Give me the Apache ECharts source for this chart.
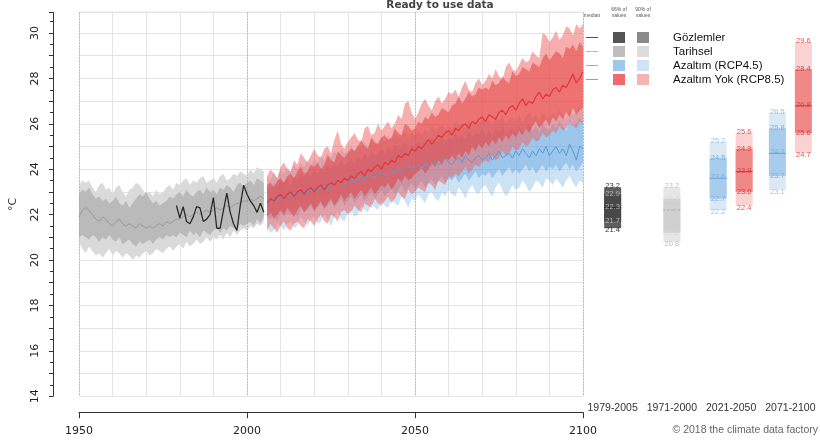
<!DOCTYPE html>
<html><head><meta charset="utf-8">
<script src="https://cdn.jsdelivr.net/npm/echarts@6/dist/echarts.min.js"></script>
<style>html,body{margin:0;padding:0;background:#fff}#c{width:820px;height:445px}</style>
</head><body><div id="c"></div>
<script>
// ---------- DATA ----------
const histStart = 1950, futStart = 2006, obsStart = 1979;
const histMedian = [21.9,22.2,22.3,22.2,22.0,21.8,21.7,21.9,21.8,21.6,
  21.5,21.7,21.8,21.6,21.5,21.6,21.5,21.4,21.6,21.5,
  21.4,21.5,21.4,21.5,21.6,21.5,21.7,21.6,21.7,21.8,
  21.8,21.9,22.0,21.9,22.0,22.1,22.0,22.1,22.2,22.1,
  22.2,22.3,22.2,22.3,22.4,22.3,22.4,22.5,22.5,22.6,
  22.6,22.7,22.6,22.7,22.8,22.7];
const hist66Lo = [21.0,21.1,21.0,20.9,21.1,21.0,20.8,21.0,20.9,21.1,
  20.9,20.8,21.0,20.7,20.8,20.9,20.7,20.6,20.8,20.7,
  20.8,20.9,20.7,20.9,21.0,20.9,21.1,21.0,21.1,21.0,
  21.2,21.1,21.0,21.3,21.1,21.2,21.0,21.3,21.2,21.1,
  21.3,21.4,21.2,21.4,21.3,21.5,21.4,21.3,21.6,21.5,
  21.6,21.7,21.5,21.8,21.6,21.9];
const hist66Hi = [22.9,23.1,23.0,23.2,22.9,22.7,22.8,22.6,22.7,22.5,
  22.6,22.8,22.5,22.4,22.6,22.3,22.5,22.7,22.9,22.8,
  23.0,22.7,22.5,22.6,22.4,22.5,22.6,22.8,22.7,22.9,
  23.0,22.8,23.1,22.9,22.8,23.0,23.1,22.9,23.2,23.0,
  23.1,22.9,23.2,23.1,23.3,23.2,23.0,23.3,23.4,23.2,
  23.4,23.5,23.3,23.6,23.5,23.4];
const hist90Lo = [20.8,20.5,20.3,20.6,20.4,20.2,20.3,20.1,20.3,20.5,
  20.2,20.4,20.3,20.1,20.3,20.2,20.0,20.2,20.1,20.3,
  20.4,20.2,20.3,20.5,20.4,20.3,20.5,20.6,20.4,20.6,
  20.7,20.5,20.8,20.6,20.7,20.9,20.7,20.8,21.0,20.8,
  21.0,20.9,21.1,20.9,21.2,21.0,21.3,21.1,21.3,21.4,
  21.3,21.5,21.4,21.6,21.5,21.7];
const hist90Hi = [23.3,23.5,23.4,23.5,23.2,23.0,23.3,23.4,23.1,23.2,
  22.9,23.2,23.3,23.0,22.8,23.1,23.2,23.4,23.3,23.1,
  22.9,23.0,22.8,23.1,22.9,23.0,23.2,23.3,23.1,23.4,
  23.3,23.5,23.6,23.3,23.5,23.4,23.6,23.7,23.4,23.5,
  23.6,23.4,23.7,23.8,23.5,23.6,23.8,23.7,23.9,23.8,
  23.7,24.0,23.8,24.1,24.0,23.9];
const observed = [22.4,21.85,22.35,21.7,21.6,21.9,22.35,22.3,21.7,21.8,
  22.0,22.75,21.4,21.4,22.2,22.95,22.1,21.6,21.3,22.4,
  23.3,22.9,22.6,22.4,22.1,22.5,22.1];

const rcp85Median = [22.5,22.7,22.6,22.8,22.9,
  22.7,22.9,23.0,22.8,23.0,23.1,22.9,23.1,23.2,23.0,
  23.2,23.3,23.1,23.3,23.4,23.3,23.5,23.4,23.6,23.5,
  23.7,23.6,23.8,23.9,23.7,24.0,23.9,24.1,24.2,24.0,
  24.3,24.2,24.4,24.3,24.6,24.5,24.7,24.6,24.9,24.8,
  25.0,24.9,25.1,25.3,25.1,25.3,25.5,25.4,25.6,25.7,
  25.5,25.8,25.7,25.9,26.0,25.8,26.1,26.0,26.2,26.3,
  26.1,26.4,26.3,26.2,26.5,26.6,26.4,26.7,26.8,26.6,
  26.9,27.1,26.8,27.0,26.9,27.2,27.4,27.1,27.3,27.2,
  27.5,27.6,27.4,27.7,27.6,27.9,28.2,27.8,28.0,28.3];
const rcp85_66Hi = [23.3,23.4,23.2,23.5,23.6,
  23.4,23.7,23.8,23.6,23.9,24.1,23.8,23.9,24.2,24.1,
  24.3,24.0,24.2,24.6,24.4,24.3,24.8,24.6,24.5,24.7,
  24.9,24.8,25.0,25.3,25.0,24.9,25.4,25.2,25.1,25.4,
  25.5,25.3,25.4,25.8,25.6,25.5,26.0,25.9,25.7,25.8,
  26.1,26.0,26.3,26.2,26.5,26.3,26.4,26.7,26.6,26.5,
  26.8,26.9,27.2,26.9,27.1,27.4,27.2,27.3,27.6,27.5,
  27.6,27.5,27.9,27.7,27.8,28.1,27.9,27.8,28.3,28.1,
  28.2,28.5,28.4,28.3,28.7,28.6,28.5,28.9,29.1,28.8,
  29.0,29.2,29.1,28.9,29.4,29.3,29.5,29.2,29.6,29.4];
const rcp85_66Lo = [21.9,22.1,21.8,22.0,22.2,
  22.0,22.3,22.1,21.9,22.2,22.4,22.1,22.3,22.5,22.2,
  22.4,22.6,22.3,22.5,22.7,22.4,22.6,22.9,22.6,22.8,
  23.0,22.7,22.9,23.1,22.8,23.0,23.2,22.9,23.1,23.3,
  23.2,23.4,23.1,23.3,23.6,23.4,23.7,23.5,23.6,23.8,
  23.9,24.1,23.8,24.0,24.3,24.1,24.4,24.2,24.5,24.4,
  24.6,24.4,24.7,24.5,24.8,24.6,25.0,24.8,25.1,24.9,
  25.2,25.0,25.3,25.1,25.4,25.2,25.5,25.3,25.6,25.4,
  25.7,25.5,25.8,25.6,25.9,26.1,25.8,26.0,26.2,25.9,
  26.3,26.1,26.4,26.2,26.5,26.3,26.7,26.4,26.6,26.7];
const rcp85_90Hi = [23.7,24.0,23.8,23.6,24.1,
  24.3,24.0,23.9,24.4,24.2,24.7,24.5,24.3,24.6,24.9,
  24.6,24.5,24.9,25.0,24.7,25.3,25.7,25.1,24.9,25.2,
  25.4,25.6,25.3,25.2,25.8,25.9,25.5,25.6,26.0,25.7,
  25.9,26.1,25.8,26.0,26.4,26.2,26.9,27.0,26.5,26.2,
  26.5,26.9,27.1,26.8,26.6,27.0,27.2,26.9,27.1,27.4,
  27.3,27.5,27.2,27.6,27.9,27.5,27.4,27.8,28.0,27.7,
  27.9,28.2,28.0,28.4,28.1,27.9,28.5,28.7,28.4,28.3,
  28.6,28.9,28.7,28.8,29.2,29.0,28.9,30.0,29.9,29.6,
  29.8,30.1,29.7,29.9,30.3,30.2,29.9,30.4,30.2,30.4];
const rcp85_90Lo = [21.3,21.6,21.4,21.2,21.5,
  21.7,21.4,21.3,21.6,21.7,21.5,21.4,21.8,21.7,21.5,
  21.8,22.0,21.7,21.6,22.0,21.9,21.7,22.1,22.2,22.0,
  22.1,22.4,22.2,22.1,22.5,22.4,22.3,22.7,22.5,22.4,
  22.6,22.8,22.5,22.7,23.0,22.8,22.7,23.1,22.9,23.0,
  23.2,23.1,23.0,23.4,23.3,23.1,23.5,23.4,23.3,23.7,
  23.6,23.8,23.7,23.9,24.1,23.8,24.0,24.2,24.1,24.3,
  24.4,24.3,24.6,24.4,24.5,24.8,24.6,24.7,25.0,24.8,
  24.9,25.2,25.0,25.1,25.4,25.2,25.3,25.6,25.4,25.5,
  25.7,25.6,25.9,25.7,25.8,26.1,25.9,25.8,26.1,26.0];

const rcp45Median = [22.6,22.5,22.7,22.6,22.8,
  22.7,22.9,22.8,23.0,22.9,23.1,22.9,23.0,23.2,23.1,
  23.0,23.2,23.3,23.1,23.4,23.3,23.5,23.4,23.3,23.5,
  23.6,23.4,23.6,23.7,23.5,23.8,23.7,23.6,23.9,23.8,
  23.7,23.9,24.0,23.8,24.1,23.9,24.0,24.2,24.0,24.1,
  24.2,24.0,24.3,24.1,24.2,24.4,24.2,24.3,24.5,24.3,
  24.2,24.4,24.5,24.3,24.6,24.4,24.3,24.5,24.6,24.4,
  24.5,24.7,24.4,24.6,24.8,24.5,24.6,24.7,24.5,24.8,
  24.6,24.9,24.7,24.5,24.8,24.6,24.9,24.7,25.0,24.6,
  24.8,25.0,24.7,24.9,24.6,25.1,24.8,24.4,25.0,24.9];
const rcp45_66Hi = [23.3,23.1,23.4,23.2,23.5,
  23.4,23.6,23.3,23.7,23.5,23.8,23.6,23.9,23.7,24.0,
  23.8,24.1,23.9,24.2,24.0,24.3,24.1,24.4,24.2,24.3,
  24.5,24.3,24.6,24.4,24.7,24.5,24.8,24.6,24.7,24.9,
  24.7,25.0,24.8,25.1,24.9,25.0,25.2,24.9,25.1,25.0,
  25.2,25.0,25.3,25.1,25.4,25.2,25.3,25.5,25.2,25.4,
  25.3,25.6,25.4,25.5,25.3,25.7,25.4,25.6,25.5,25.8,
  25.5,25.7,25.4,25.8,25.6,25.9,25.5,25.7,25.8,25.6,
  25.9,25.6,25.8,26.0,25.7,25.9,25.6,26.0,25.8,25.7,
  26.0,25.8,26.1,25.9,25.7,26.2,25.9,26.0,26.3,26.0];
const rcp45_66Lo = [21.9,21.8,22.0,21.7,22.1,
  21.9,22.1,22.0,22.2,21.9,22.3,22.1,22.2,22.4,22.1,
  22.3,22.5,22.2,22.4,22.6,22.3,22.5,22.7,22.4,22.6,
  22.8,22.5,22.7,22.9,22.6,22.8,23.0,22.7,22.9,23.1,
  22.8,23.0,23.2,22.9,23.1,23.3,23.0,23.2,23.4,23.1,
  23.3,23.5,23.2,23.4,23.6,23.3,23.5,23.7,23.4,23.6,
  23.5,23.7,23.4,23.6,23.8,23.5,23.7,23.9,23.6,23.8,
  23.7,23.9,23.6,23.8,24.0,23.7,23.9,24.1,23.8,24.0,
  23.8,24.0,24.2,23.9,24.1,23.8,24.0,24.2,23.9,24.1,
  24.0,24.2,23.9,24.1,24.3,24.0,24.2,23.9,24.1,24.3];
const rcp45_90Hi = [23.7,23.5,23.9,23.6,24.0,
  23.8,24.1,23.9,24.2,24.0,24.3,24.1,24.4,24.2,24.5,
  24.3,24.6,24.4,24.7,24.5,24.8,24.6,24.9,24.7,24.8,
  25.0,24.8,25.1,24.9,25.2,25.0,25.3,25.1,25.2,25.4,
  25.2,25.5,25.3,25.6,25.4,25.5,25.7,25.4,25.6,25.5,
  25.7,25.5,25.8,25.6,25.9,25.7,25.8,26.0,25.7,25.9,
  25.8,26.1,25.9,26.0,25.8,26.2,25.9,26.1,26.0,26.3,
  26.0,26.2,25.9,26.3,26.1,26.4,26.0,26.2,26.3,26.1,
  26.4,26.1,26.3,26.5,26.2,26.4,26.1,26.5,26.3,26.2,
  26.5,26.3,26.6,26.4,26.2,26.7,26.4,26.5,26.8,26.6];
const rcp45_90Lo = [21.4,21.2,21.3,21.6,21.5,
  21.3,21.6,21.7,21.4,21.5,21.9,21.7,21.5,21.8,21.9,
  21.6,21.7,22.0,21.8,21.5,21.9,22.1,21.8,21.7,22.1,
  22.2,21.9,22.0,22.4,22.2,22.1,22.5,22.3,22.2,22.6,
  22.4,22.3,22.7,22.5,22.4,22.8,22.6,22.3,22.7,22.6,
  22.9,22.7,22.5,22.9,23.0,22.7,22.6,23.0,22.8,23.1,
  22.9,22.8,23.2,23.0,22.7,23.1,23.3,23.0,22.9,23.2,
  23.3,23.0,22.8,23.2,23.4,23.1,22.8,23.0,23.3,23.1,
  23.2,23.5,23.3,23.0,23.2,23.5,23.4,23.2,23.6,23.5,
  23.3,23.6,23.4,23.2,23.5,23.7,23.4,23.2,23.5,23.4];

// period boxes: [5%, 17%, median, 83%, 95%]
const periods = ['1979-2005','1971-2000','2021-2050','2071-2100'];
const boxObs = [21.4, 21.7, 22.3, 22.9, 23.2];
const boxHist = [20.8, 21.2, 22.2, 22.7, 23.2];
const boxRcp45Mid = [22.2, 22.7, 23.6, 24.5, 25.2];
const boxRcp85Mid = [22.4, 23.0, 23.9, 24.9, 25.6];
const boxRcp45End = [23.1, 23.7, 24.7, 25.8, 26.5];
const boxRcp85End = [24.7, 25.6, 26.8, 28.4, 29.6];

const legendNames = ['Gözlemler', 'Tarihsel', 'Azaltım (RCP4.5)', 'Azaltım Yok (RCP8.5)'];

// ---------- BUILD ----------
const yrs = (start, n) => Array.from({length: n}, (_, i) => start + i);
const histYears = yrs(histStart, histMedian.length);
const futYears = yrs(futStart, rcp85Median.length);
const obsYears = yrs(obsStart, observed.length);

// filled band between lo and hi, drawn as one polygon through the axis scales
function band(years, lo, hi, color, z) {
  const data = years.map((y, i) => [y, lo[i], hi[i]]);
  return {
    type: 'custom', silent: true, z: z, animation: false, xAxisIndex: 0, yAxisIndex: 0,
    encode: { x: 0, y: [1, 2] },
    data: data,
    renderItem: function (params, api) {
      if (params.dataIndex !== 0) return null;
      const top = data.map(d => api.coord([d[0], d[2]]));
      const bot = data.map(d => api.coord([d[0], d[1]])).reverse();
      return { type: 'polygon', shape: { points: top.concat(bot) }, style: { fill: color } };
    }
  };
}
function line(years, vals, color, width, z) {
  return { type: 'line', xAxisIndex: 0, yAxisIndex: 0, data: years.map((y, i) => [y, vals[i]]), symbol: 'none',
    lineStyle: { color: color, width: width }, silent: true, z: z, animation: false };
}

const boxFont = 'Liberation Sans, Arial, sans-serif';
function boxSeries(cat, vals, off, c90, c66, cMed, cLblOut, cLblIn) {
  return {
    type: 'custom', xAxisIndex: 2, yAxisIndex: 1, silent: true, z: 5, animation: false,
    data: [[cat].concat(vals)],
    renderItem: function (params, api) {
      const c = api.value(0);
      const v = [1,2,3,4,5].map(k => api.value(k));
      const p = v.map(x => api.coord([c, x]));
      const cx = p[0][0] + off, hw = 8.5;
      const txt = (val, y, fill) => ({ type: 'text', z2: 10, style: { text: val.toFixed(1), x: cx, y: y,
        align: 'center', verticalAlign: 'middle', fill: fill, fontSize: 7.5, fontFamily: boxFont } });
      return { type: 'group', children: [
        { type: 'rect', shape: { x: cx - hw, y: p[4][1], width: hw * 2, height: p[0][1] - p[4][1] }, style: { fill: c90 } },
        { type: 'rect', shape: { x: cx - hw, y: p[3][1], width: hw * 2, height: p[1][1] - p[3][1] }, style: { fill: c66 } },
        { type: 'line', shape: { x1: cx - hw, y1: p[2][1], x2: cx + hw, y2: p[2][1] }, style: { stroke: cMed, lineWidth: 1 } },
        txt(v[4], p[4][1] - 1, cLblOut), txt(v[3], p[3][1], cLblIn), txt(v[2], p[2][1] - 1, cLblIn),
        txt(v[1], p[1][1], cLblIn), txt(v[0], p[0][1] + 2, cLblOut)
      ]};
    }
  };
}

const series = [
  band(histYears, hist90Lo, hist90Hi, '#dadada', 1),
  band(histYears, hist66Lo, hist66Hi, '#bababa', 2),
  band(futYears, rcp45_90Lo, rcp45_90Hi, 'rgba(120,180,230,0.38)', 3),
  band(futYears, rcp45_66Lo, rcp45_66Hi, 'rgba(90,160,225,0.42)', 4),
  band(futYears, rcp85_90Lo, rcp85_90Hi, 'rgba(240,100,100,0.52)', 5),
  band(futYears, rcp85_66Lo, rcp85_66Hi, 'rgba(228,60,60,0.52)', 6),
  line(histYears, histMedian, '#9a9a9a', 1, 10),
  line(futYears, rcp45Median, '#5a9bd5', 1, 10),
  line(futYears, rcp85Median, '#e2363a', 1.2, 11),
  line(obsYears, observed, '#2a2a2a', 1.3, 12),
  boxSeries(0, boxObs, 0, '#5e5e5e', '#484848', '#1e1e1e', '#333', '#b8b8b8'),
  boxSeries(1, boxHist, 0, '#e6e6e6', '#d0d0d0', '#a8a8a8', '#bdbdbd', '#d8d8d8'),
  boxSeries(2, boxRcp45Mid, -13, '#dbe9f6', '#a8ccec', '#5b9bd5', '#9cc2e6', '#80b2de'),
  boxSeries(2, boxRcp85Mid, 13, '#fbd2d2', '#f08888', '#e03a3a', '#e45555', '#d94040'),
  boxSeries(3, boxRcp45End, -13, '#dbe9f6', '#a8ccec', '#5b9bd5', '#9cc2e6', '#80b2de'),
  boxSeries(3, boxRcp85End, 13, '#fbd2d2', '#f08888', '#e03a3a', '#e45555', '#d94040')
];

// legend graphic
const legMed = ['#555', '#bbb', '#7fb3e0', '#ef7b7b'];
const leg66 = ['#555555', '#bdbdbd', '#9dc7ec', '#ef6b6b'];
const leg90 = ['#8a8a8a', '#dcdcdc', '#cfe3f5', '#f7b2b2'];
const graphics = [
  { type: 'text', style: { text: 'Ready to use data', x: 440, y: 5, align: 'center', verticalAlign: 'middle',
      fill: '#444', fontSize: 10.5, fontWeight: 'bold', fontFamily: 'DejaVu Sans, sans-serif' } },
  { type: 'line', shape: { x1: 77, y1: 12, x2: 583, y2: 12 }, style: { stroke: '#ececec', lineWidth: 1 } },
  { type: 'text', style: { text: 'median', x: 592, y: 16, align: 'center', verticalAlign: 'middle', fill: '#555', fontSize: 5, fontFamily: boxFont } },
  { type: 'text', style: { text: '66% of\nvalues', x: 619, y: 13, align: 'center', verticalAlign: 'middle', fill: '#555', fontSize: 5, lineHeight: 6, fontFamily: boxFont } },
  { type: 'text', style: { text: '90% of\nvalues', x: 643, y: 13, align: 'center', verticalAlign: 'middle', fill: '#555', fontSize: 5, lineHeight: 6, fontFamily: boxFont } },
  { type: 'text', style: { text: '© 2018 the climate data factory', x: 818, y: 430, align: 'right', verticalAlign: 'middle', fill: '#666', fontSize: 10.5, fontFamily: boxFont } }
];
legendNames.forEach((n, i) => {
  const yc = 37.5 + i * 14;
  graphics.push({ type: 'line', shape: { x1: 586, y1: yc, x2: 598, y2: yc }, style: { stroke: legMed[i], lineWidth: 1 } });
  graphics.push({ type: 'rect', shape: { x: 613, y: yc - 5.5, width: 12, height: 11 }, style: { fill: leg66[i] } });
  graphics.push({ type: 'rect', shape: { x: 637, y: yc - 5.5, width: 12, height: 11 }, style: { fill: leg90[i] } });
  graphics.push({ type: 'text', style: { text: n, x: 673, y: yc, align: 'left', verticalAlign: 'middle', fill: '#111', fontSize: 11.5, fontFamily: boxFont } });
});

const tickFont = 'DejaVu Sans, sans-serif';
const option = {
  animation: false,
  backgroundColor: '#fff',
  grid: [
    { left: 77, top: 12.6, width: 506, height: 383.6 },
    { left: 583, top: 12.6, width: 242, height: 383.6 }
  ],
  xAxis: [
    { gridIndex: 0, type: 'value', min: 1950, max: 2100, interval: 50, offset: 16,
      axisLine: { show: true, lineStyle: { color: '#333', width: 1 } },
      axisTick: { show: true, length: 6, lineStyle: { color: '#333' } },
      axisLabel: { show: true, margin: 13, color: '#222', fontSize: 11, fontFamily: tickFont, formatter: v => String(v) },
      splitLine: { show: true, lineStyle: { color: '#9a9a9a', type: [1, 2], width: 1 } }, z: 3 },
    { gridIndex: 0, type: 'value', min: 1950, max: 2100, interval: 10, offset: 16,
      axisLine: { show: false }, axisTick: { show: true, length: 3, lineStyle: { color: '#333' } },
      axisLabel: { show: false },
      splitLine: { show: true, lineStyle: { color: '#e4e4e4', width: 1 } } },
    { gridIndex: 1, type: 'category', data: periods, boundaryGap: true,
      axisLine: { show: false }, axisTick: { show: false },
      axisLabel: { margin: 6, color: '#333', fontSize: 10.5, fontFamily: boxFont, interval: 0 },
      splitLine: { show: false } }
  ],
  yAxis: [
    { gridIndex: 0, type: 'value', min: 14, max: 30.9, interval: 1, offset: 26,
      name: '°C', nameLocation: 'middle', nameRotate: 90, nameGap: 34,
      nameTextStyle: { color: '#333', fontSize: 11, fontFamily: tickFont },
      axisLine: { show: true, lineStyle: { color: '#333', width: 1 } },
      axisTick: { show: true, length: 4, lineStyle: { color: '#333' } },
      minorTick: { show: true, splitNumber: 2, length: 3, lineStyle: { color: '#333' } },
      axisLabel: { rotate: 90, margin: 12, color: '#222', fontSize: 11, fontFamily: tickFont,
        formatter: v => { const r = Math.round(v); return (Math.abs(v - r) < 1e-6 && r % 2 === 0) ? String(r) : ''; } },
      splitLine: { show: true, lineStyle: { color: '#e4e4e4', width: 1 } } },
    { gridIndex: 1, type: 'value', min: 14, max: 30.9, show: false }
  ],
  graphic: graphics,
  series: series
};
const chart = echarts.init(document.getElementById('c'), null, { renderer: 'canvas' });
chart.setOption(option);
</script></body></html>
